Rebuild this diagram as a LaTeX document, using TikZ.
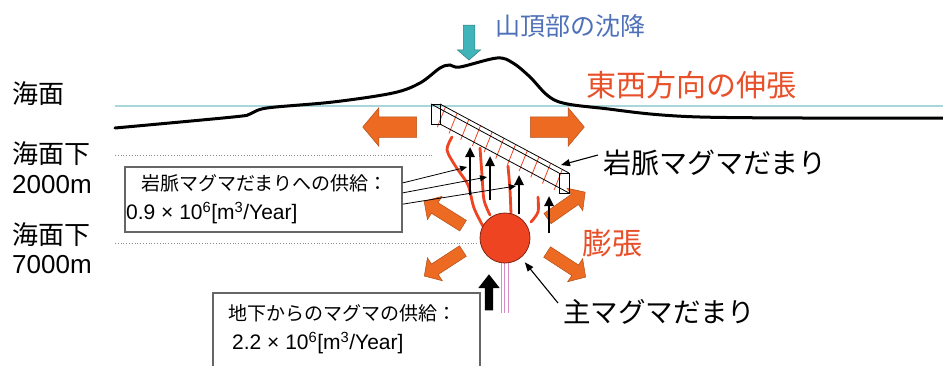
\documentclass[tikz,border=0pt]{standalone}
\usepackage{fontspec}
\setmainfont{Liberation Sans}
\newfontfamily\jp{Noto Sans CJK JP}
\usetikzlibrary{arrows.meta,shapes.arrows,calc}

\definecolor{magmared}{HTML}{EE4422}
\definecolor{pushorange}{HTML}{EC6A22}
\definecolor{labelred}{HTML}{E8502A}
\definecolor{sinkblue}{HTML}{4D70B8}
\definecolor{sinkteal}{HTML}{40B4B8}
\definecolor{sealine}{HTML}{A9D6DB}
\definecolor{feedpink}{HTML}{D98AC8}

\tikzset{
  push/.style={single arrow,fill=pushorange,draw=pushorange!75!black,line width=0.5pt,
    inner xsep=0pt,inner ysep=6pt,minimum height=46pt,
    single arrow head extend=7.5pt,single arrow tip angle=95},
  widepush/.style={push,minimum height=54pt,inner ysep=10pt,
    single arrow head extend=9pt,single arrow tip angle=100},
  rise/.style={line width=2.4pt,-{Triangle[length=10pt,width=9pt]}},
  feed/.style={line width=0.8pt,-{Triangle[length=7pt,width=6pt]}},
  pointer/.style={line width=1.1pt,-{Triangle[length=9pt,width=7pt]}},
  magma/.style={draw=magmared,line width=2.8pt,line cap=round},
  hatch/.style={draw=magmared,line width=0.8pt},
  infobox/.style={draw=black!60,line width=1.4pt},
  tag/.style={anchor=west,inner sep=0pt,font=\jp\fontsize{28}{30}\selectfont},
  depth/.style={anchor=west,inner sep=0pt,font=\fontsize{26}{28}\selectfont},
  note/.style={anchor=west,inner sep=0pt,font=\fontsize{19}{21}\selectfont},
  value/.style={note,font=\fontsize{21}{23}\selectfont}
}

\begin{document}
\begin{tikzpicture}[x=1pt,y=-1pt]
\useasboundingbox (0,0) rectangle (943,365);

% sea level and depth marks
\draw[sealine,line width=1.5pt] (115,106) -- (943,106);
\draw[black!45,dotted,line width=0.8pt] (115,155) -- (432,155);
\draw[black!45,dotted,line width=0.8pt] (115,243) -- (478,243);

% ground surface
\draw[line width=3pt,line cap=round] plot[smooth,tension=0.55] coordinates {(115,128) (233,117) (250,114) (267,108) (333,102) (393,93) (420,83) (440,68) (450,65) (460,67) (497,58) (513,63) (530,77) (547,95) (563,103) (600,108) (700,117) (943,118)};

\node[depth] (sea) at (12,94) {\jp 海面};
\node[depth] (sub1) at (12,154) {\jp 海面下};
\node[depth] (d2000) at (12,185) {2000m};
\node[depth] (sub2) at (12,235) {\jp 海面下};
\node[depth] (d7000) at (12,265) {7000m};

\node[tag,text=sinkblue,font=\jp\fontsize{25}{27}\selectfont] (sink) at (495,26) {山頂部の沈降};
\node[single arrow,fill=sinkteal,draw=sinkteal!70!black,line width=0.5pt,inner xsep=0pt,inner ysep=5.5pt,
  minimum height=35pt,single arrow head extend=6pt,
  single arrow tip angle=98,rotate=-90] (sinkarrow) at (469,40) {};
\node[tag,text=labelred,font=\jp\fontsize{30}{32}\selectfont] (stretch) at (586,85) {東西方向の伸張};

% east-west and swelling pushes
\node[widepush,rotate=180] (pushw) at (394,127) {};
\node[widepush] (pushe) at (553,127) {};
\node[push,rotate=148] (pushnw) at (446,215) {};
\node[push,rotate=35] (pushne) at (564,207) {};
\node[push,rotate=213] (pushsw) at (446,262) {};
\node[push,rotate=-33] (pushse) at (564,263) {};

% dike
\coordinate (d1) at (431,104); \coordinate (d2) at (440,104);
\coordinate (d3) at (440,124); \coordinate (d4) at (431,124);
\coordinate (e1) at (559,173); \coordinate (e2) at (569,173);
\coordinate (e3) at (569,193); \coordinate (e4) at (559,193);
\coordinate (dc) at (435.5,114); \coordinate (ec) at (564,183);
\foreach \i [evaluate=\i as \t using (\i+0.5)/11] in {0,...,10}
  \draw[hatch] ($(dc)!\t!(ec)+(-4,10)$) -- ($(dc)!\t!(ec)+(4,-10)$);
\draw[line width=0.8pt] (d1) -- (d2) -- (d3) -- (d4) -- cycle;
\draw[line width=0.8pt] (e1) -- (e2) -- (e3) -- (e4) -- cycle;
\draw[line width=0.8pt] (d1) -- (e1) (d2) -- (e2) (d3) -- (e3);

% magma paths
\draw[magma] plot[smooth] coordinates {(452,137) (447,150) (456,167) (468,185) (474,208) (484,228)};
\draw[magma] plot[smooth] coordinates {(480,148) (482,175) (484,200) (490,215)};
\draw[magma] plot[smooth] coordinates {(508,166) (510,190) (511,214)};
\draw[magma] plot[smooth] coordinates {(538,197) (538,212) (531,222)};
\foreach \x in {501,504.5,508}
  \draw[feedpink,line width=1pt] (\x,262) -- (\x,313);

\node[circle,fill=magmared,draw=magmared!55!black,line width=0.8pt,minimum size=50pt,inner sep=0pt] (chamber) at (505,238) {};
\node[single arrow,fill=black,inner xsep=0pt,inner ysep=4pt,minimum height=36pt,
  single arrow head extend=6.5pt,single arrow tip angle=76,rotate=90] (deepfeed) at (489,295) {};

\foreach \n/\x/\ya/\yb in {1/470/195/147,2/490/200/156,3/519/214/175,4/549/233/196} {
  \coordinate (r\n) at (\x,\ya);
  \coordinate (t\n) at (\x,\yb);
  \draw[rise] (r\n) -- (t\n);
}

% supply boxes
\node[infobox,minimum width=277pt,minimum height=65pt,inner sep=0pt] (dikefeed) at (263.5,199.5) {};
\node[note] (dikefeedtxt) at (141,183) {\jp 岩脈マグマだまりへの供給：};
\node[value] (dikefeedval) at (126,213) {0.9 × 10\textsuperscript{6}[m\textsuperscript{3}/Year]};
\coordinate (f1) at (467,167);
\coordinate (f2) at (487,177);
\coordinate (f3) at (516,186);
\draw[feed] ($(dikefeed.north east)!0.25!(dikefeed.south east)$) -- (f1);
\draw[feed] ($(dikefeed.north east)!0.40!(dikefeed.south east)$) -- (f2);
\draw[feed] ($(dikefeed.north east)!0.57!(dikefeed.south east)$) -- (f3);

\draw[infobox] (213,366) |- (480,293) -- (480,366);
\node[note] (deepfeedtxt) at (228,313) {\jp 地下からのマグマの供給：};
\node[value] (deepfeedval) at (232,343) {2.2 × 10\textsuperscript{6}[m\textsuperscript{3}/Year]};

% labels on the right
\node[tag] (dikelabel) at (603,163) {岩脈マグマだまり};
\node[tag,text=labelred,font=\jp\fontsize{30}{32}\selectfont] (swell) at (582,243) {膨張};
\node[tag,font=\jp\fontsize{27.5}{30}\selectfont] (mainlabel) at (563,312) {主マグマだまり};
\coordinate (dtip) at (561,165);
\draw[pointer] ([xshift=-5pt,yshift=8pt]dikelabel.west) -- (dtip);
\draw[pointer,shorten >=6pt] ([xshift=-5pt,yshift=9pt]mainlabel.west) -- (chamber);
\end{tikzpicture}
\end{document}
